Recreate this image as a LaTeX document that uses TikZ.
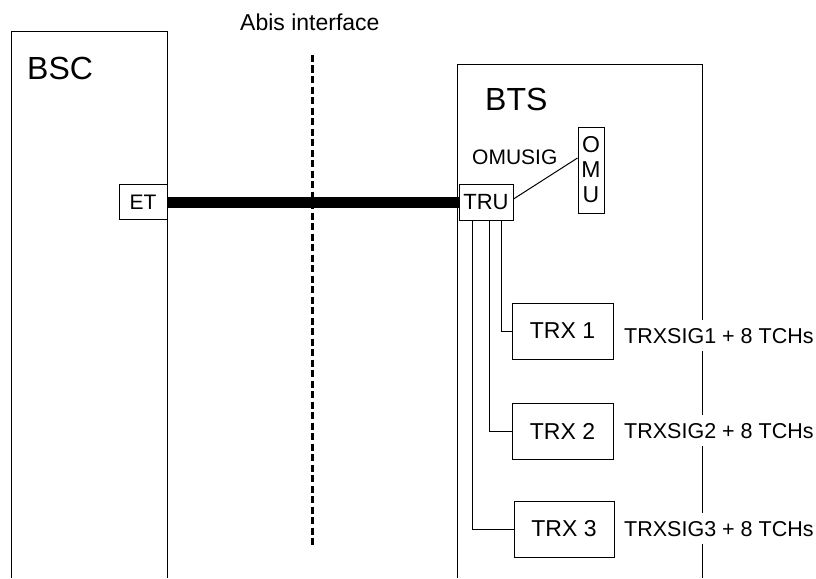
\documentclass[tikz,border=0pt]{standalone}
\usepackage{fontspec}
\setmainfont{Liberation Sans}
\begin{document}
\begin{tikzpicture}[x=1pt,y=-1pt,
  thin line/.style={line width=1pt},
  unit/.style={draw,thin line,inner sep=0pt,font=\fontsize{22}{26}\selectfont},
  bigtitle/.style={anchor=base west,inner sep=0pt,font=\fontsize{32}{36}\selectfont},
  sig/.style={anchor=base west,fill=white,inner xsep=1pt,inner ysep=8pt,font=\fontsize{21.5}{25}\selectfont},
  link/.style={thin line},
  trunk/.style={line width=11pt},
  iface/.style={line width=3pt,dash pattern=on 7pt off 3.5pt}]
\useasboundingbox (0,0) rectangle (816,578);

% controller and base station frames (open at the bottom)
\draw[thin line] (11,578) -- (11,32) -- (167,32) -- (167,578);
\draw[thin line] (457,578) -- (457,65) -- (702,65) -- (702,578);
\node[bigtitle] (bsc) at (27,79) {BSC};
\node[bigtitle] (bts) at (485,110) {BTS};

% interface boundary
\node[anchor=base west,inner sep=0pt,font=\fontsize{23}{27}\selectfont] (abis) at (240,31) {Abis interface};
\coordinate (abtop) at (312,55);
\coordinate (abbot) at (312,548);
\draw[iface] (abtop) -- (abbot);

% units
\node[unit,minimum width=48pt,minimum height=35pt,font=\fontsize{21}{25}\selectfont] (et) at (143,202) {ET};
\node[unit,minimum width=54pt,minimum height=36pt] (tru) at (486,202) {TRU};
\node[unit,minimum width=26pt,minimum height=86pt,align=center,font=\fontsize{23}{25}\selectfont] (omu) at (591,170) {O\\M\\U};
\node[anchor=base west,inner sep=0pt,font=\fontsize{21}{25}\selectfont] (omusig) at (472,164) {OMUSIG};

\node[unit,minimum width=101pt,minimum height=56pt,font=\fontsize{23}{27}\selectfont] (trx1) at (562.5,331) {TRX 1};
\node[unit,minimum width=101pt,minimum height=56pt,font=\fontsize{23}{27}\selectfont] (trx2) at (562.5,431) {TRX 2};
\node[unit,minimum width=100pt,minimum height=56pt,font=\fontsize{23}{27}\selectfont] (trx3) at (564,529) {TRX 3};

% signalling labels
\node[sig] (sig1) at (623,343) {TRXSIG1 + 8 TCHs};
\node[sig] (sig2) at (623,438) {TRXSIG2 + 8 TCHs};
\node[sig] (sig3) at (623,536) {TRXSIG3 + 8 TCHs};

% connections
\draw[trunk] (et.east) -- (tru.west);
\draw[link] ([yshift=3pt]tru.east) -- ([yshift=12pt]omu.west);
\draw[link] ([xshift=15pt]tru.south) |- (trx1.west);
\draw[link] ([xshift=3pt]tru.south) |- (trx2.west);
\draw[link] ([xshift=-14pt]tru.south) |- (trx3.west);
\end{tikzpicture}
\end{document}
